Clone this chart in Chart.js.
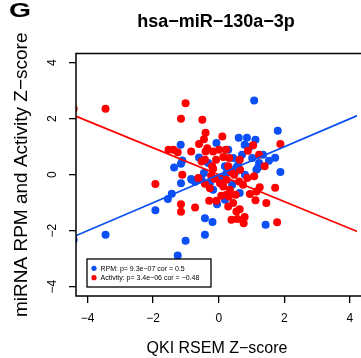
<!DOCTYPE html>
<html>
<head>
<meta charset="utf-8">
<script src="https://cdn.jsdelivr.net/npm/chart.js@4"></script>
<style>
  html, body { margin: 0; padding: 0; background: #fff; }
  #c { display: block; }
</style>
</head>
<body>
<canvas id="c" width="361" height="358"></canvas>
<script>
// Tick positions on both axes
const xTicks = [-4, -2, 0, 2, 4];
const yTicks = [-4, -2, 0, 2, 4];

// miRNA RPM z-scores vs QKI expression (blue)
const rpmX = [1.08, 1.80, 1.72, 1.88, 0.61, 0.86, 1.12, 0.79, 0.95, 1.02, 0.44, 1.23, 1.20, 0.59, 0.29, -0.07,
  -1.16, -1.11, -1.36, -1.15, -1.15, -0.84, -0.72, -0.60, -0.45, -0.32, 0.19, -1.43, -1.55, -1.93, -0.42, -0.19,
  -0.42, -1.01, -1.25, -3.45, -4.42, -0.52, -0.27, -0.05, 0.19, 0.24, 0.56, 0.64, 1.15, 0.19, 1.43, -0.82,
  -0.17, 0.41, 0.80, 0.05, 1.35, 1.53, 0.71, 0.53];
const rpmY = [2.65, 1.57, 0.61, 0.10, 1.32, 1.32, 1.25, 1.07, 1.00, 0.60, 0.60, 0.42, 0.26, 0.36, 0.89, 1.13,
  1.07, 0.51, 0.26, 0.39, -0.30, -0.15, -0.25, 0.62, 0.06, 0.42, 0.30, -0.68, -0.87, -1.27, -1.55, -1.69,
  -2.14, -2.36, -2.88, -2.14, -2.32, -0.18, -0.30, -1.05, -0.89, 0.06, 0.14, -0.65, 0.18, -0.83, -1.79, -0.18,
  -0.54, -0.36, 0.00, -0.11, 0.71, 0.50, 0.71, 0.25];

// miRNA activity z-scores vs QKI expression (red)
const actX = [-3.45, -4.42, -1.01, -1.15, -0.50, -0.40, -0.45, -0.60, -0.84, -1.53, -1.38, -1.25, -1.11, -0.62,
  -0.42, -0.42, -1.93, 0.11, -0.35, -0.40, -0.17, 0.01, -0.52, -0.20, 1.88, 1.05, 0.22, 0.89, 0.32, 0.64,
  1.23, 1.40, 0.29, 1.72, 1.25, 1.08, 0.87, 1.45, 1.78, 1.15, 1.12, 0.79, 0.76, 0.57, 0.39, 0.54,
  0.64, 0.29, 0.44, -1.15, -1.15, -0.72, -0.29, -0.07, 0.31, 0.08, 0.34, -0.17, 0.04, -0.27, 0.14, 0.24,
  0.74, 0.95, 0.52, 0.24, 0.62, -0.12, 0.14, 0.47, -0.23, 0.38, -0.08, 0.65];
const actY = [2.36, 2.36, 2.55, 2.00, 1.96, 1.50, 1.27, 1.10, 0.83, 0.89, 0.89, 0.80, 0.00, -0.12,
  0.54, -0.32, -0.33, 1.37, 0.95, 0.83, 0.83, 0.89, 0.47, 0.30, 1.10, 1.05, 0.89, 0.86, 0.60, 0.54,
  0.71, 0.30, 0.30, -0.46, -0.45, -0.05, -0.12, -1.01, -1.70, -0.60, -0.91, -1.51, -1.73, -1.58, -1.61, -1.31,
  -1.23, -1.13, -1.01, -1.05, -1.32, -1.17, -0.93, -0.93, -0.78, -0.75, -0.54, 0.21, -0.30, -0.48, -0.42, -0.71,
  -0.36, -0.69, -0.71, -0.18, -0.24, -0.14, 0.63, 0.00, -0.04, 0.11, 0.54, 0.18];

// Correlation statistics (z-scored data, so the fitted slope equals cor)
const corRPM = 0.5;
const corAct = -0.48;
const legendLabels = ['RPM: p= 9.3e\u221207 cor = 0.5', 'Activity: p= 3.4e\u221206 cor = \u22120.48'];

const panelLetter = 'G';
const chartTitle = 'hsa\u2212miR\u2212130a\u22123p';
const xTitle = 'QKI RSEM Z\u2212score';
const yTitle = 'miRNA RPM and Activity Z\u2212score';

const BLUE = '#0b4ff5';
const RED = '#ff0000';
const FONT = '"Liberation Sans", Arial, Helvetica, sans-serif';

const X_MIN = -4.35, X_MAX = 4.215;
const Y_MIN = -4.33, Y_MAX = 4.33;

const pts = (xs, ys) => xs.map((x, i) => ({ x, y: ys[i] }));
const fitLine = (slope) => [X_MIN - 1, X_MAX + 1].map(x => ({ x, y: slope * x }));
const fmt = v => (v < 0 ? '\u2212' + Math.abs(v) : String(v));

const decor = {
  id: 'decor',
  afterDraw(chart) {
    const { ctx, chartArea: a } = chart;
    ctx.save();
    // plot frame (right edge lies past the canvas)
    ctx.strokeStyle = '#000';
    ctx.lineWidth = 1.5;
    ctx.beginPath();
    ctx.moveTo(chart.width + 2, a.top);
    ctx.lineTo(a.left, a.top);
    ctx.lineTo(a.left, a.bottom);
    ctx.lineTo(chart.width + 2, a.bottom);
    ctx.stroke();

    // legend box
    const lx = a.left + 11, ly = a.bottom - 37, lw = 124, lh = 28;
    ctx.lineWidth = 1.3;
    ctx.fillStyle = '#fff';
    ctx.fillRect(lx, ly, lw, lh);
    ctx.strokeRect(lx, ly, lw, lh);
    const colors = [BLUE, RED];
    ctx.font = '7px ' + FONT;
    ctx.textBaseline = 'middle';
    ctx.textAlign = 'left';
    legendLabels.forEach((t, i) => {
      const cy = ly + 9.3 + i * 9.4;
      ctx.fillStyle = colors[i];
      ctx.beginPath();
      ctx.arc(lx + 7, cy, 2.6, 0, Math.PI * 2);
      ctx.fill();
      ctx.fillStyle = '#000';
      ctx.fillText(t, lx + 13.5, cy + 0.3);
    });

    // panel letter (wide bold glyph) and title
    ctx.fillStyle = '#000';
    ctx.textBaseline = 'alphabetic';
    ctx.textAlign = 'left';
    ctx.save();
    ctx.translate(9, 17);
    ctx.scale(1.35, 1);
    ctx.font = 'bold 21px ' + FONT;
    ctx.fillText(panelLetter, 0, 0);
    ctx.restore();
    ctx.textAlign = 'center';
    ctx.font = 'bold 18px ' + FONT;
    ctx.fillText(chartTitle, 216, 27);

    // axis titles, centred on the plot region
    ctx.font = '16px ' + FONT;
    ctx.fillText(xTitle, 217, 353);
    ctx.save();
    ctx.translate(27, (a.top + a.bottom) / 2);
    ctx.rotate(-Math.PI / 2);
    ctx.font = '19px ' + FONT;
    ctx.fillText(yTitle, 0, 0);
    ctx.restore();
    ctx.restore();
  }
};

const axisCommon = {
  type: 'linear',
  grid: { drawOnChartArea: false, drawTicks: true, tickLength: 7, color: '#000', lineWidth: 1.3 },
  border: { display: false },
};

new Chart(document.getElementById('c'), {
  type: 'scatter',
  data: {
    datasets: [
      { type: 'line', data: fitLine(corRPM), borderColor: BLUE, borderWidth: 1.7, pointRadius: 0, clip: 0, order: 0 },
      { type: 'line', data: fitLine(corAct), borderColor: RED, borderWidth: 1.7, pointRadius: 0, clip: 0, order: 0 },
      { label: 'Activity', data: pts(actX, actY), backgroundColor: RED, borderWidth: 0, pointRadius: 4, clip: 0, order: 1 },
      { label: 'RPM', data: pts(rpmX, rpmY), backgroundColor: BLUE, borderWidth: 0, pointRadius: 4, clip: 0, order: 2 },
    ]
  },
  options: {
    responsive: false,
    animation: false,
    events: [],
    layout: { padding: { top: 53.5, left: 0, right: 0, bottom: 0 } },
    plugins: { legend: { display: false }, tooltip: { enabled: false }, title: { display: false } },
    scales: {
      x: {
        ...axisCommon,
        position: 'bottom',
        min: X_MIN, max: X_MAX,
        afterBuildTicks: s => { s.ticks = xTicks.map(value => ({ value })); },
        afterFit: s => { s.height = 62; s.paddingLeft = 0; s.paddingRight = 0; },
        ticks: { callback: fmt, color: '#000', font: { family: FONT, size: 12 }, padding: 8, maxRotation: 0, autoSkip: false },
      },
      y: {
        ...axisCommon,
        position: 'left',
        min: Y_MIN, max: Y_MAX,
        afterBuildTicks: s => { s.ticks = yTicks.map(value => ({ value })); },
        afterFit: s => { s.width = 76; s.paddingTop = 0; s.paddingBottom = 0; },
        ticks: { callback: fmt, color: '#000', font: { family: FONT, size: 12 }, padding: 9, minRotation: 90, maxRotation: 90, crossAlign: 'center', autoSkip: false },
      }
    }
  },
  plugins: [decor]
});
</script>
</body>
</html>
